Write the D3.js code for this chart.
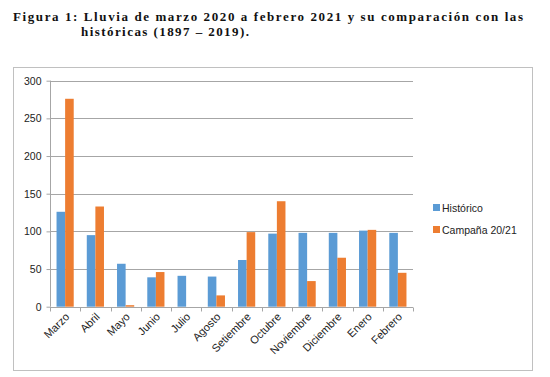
<!DOCTYPE html>
<html><head><meta charset="utf-8">
<script src="https://cdn.jsdelivr.net/npm/d3@7"></script>
<style>
body{margin:0;background:#fff;}
svg{display:block;}
</style></head>
<body>
<svg id="chart" width="550" height="377"></svg>
<script>
const months = ["Marzo","Abril","Mayo","Junio","Julio","Agosto","Setiembre","Octubre","Noviembre","Diciembre","Enero","Febrero"];
const seriesNames = ["Histórico","Campaña 20/21"];
const historico = [126, 95, 57, 39, 41, 40, 62, 97, 98, 98, 101, 98];
const campana = [276, 133, 2, 46, 0, 15, 99, 140, 34, 65, 102, 45];
const yTicks = [0, 50, 100, 150, 200, 250, 300];
const titleLines = ["Figura 1: Lluvia de marzo 2020 a febrero 2021 y su comparación con las", "históricas (1897 – 2019)."];
const colors = ["#5b9bd5", "#ed7d31"];

(function(){
const svg = d3.select("#chart");
const values = [historico, campana];

// title
svg.append("text").attr("x", 13).attr("y", 20.5)
  .attr("font-family", "'Liberation Serif', serif").attr("font-weight", "bold").attr("font-size", 13)
  .attr("textLength", 510).attr("lengthAdjust", "spacing").attr("fill", "#111")
  .text(titleLines[0]);
svg.append("text").attr("x", 81).attr("y", 35.5)
  .attr("font-family", "'Liberation Serif', serif").attr("font-weight", "bold").attr("font-size", 13)
  .attr("textLength", 168).attr("lengthAdjust", "spacing").attr("fill", "#111")
  .text(titleLines[1]);

// chart frame
svg.append("rect").attr("x", 13.5).attr("y", 67.5).attr("width", 519).attr("height", 303)
  .attr("fill", "#fff").attr("stroke", "#c0c0c0").attr("stroke-width", 1);

const pLeft = 50, pRight = 413, pTop = 80.7, pBottom = 306.7;
const y = d3.scaleLinear().domain([0, 300]).range([pBottom, pTop]);
const x0 = d3.scaleBand().domain(months).range([pLeft, pRight]).paddingInner(0).paddingOuter(0);
const x1 = d3.scaleBand().domain([0, 1]).range([0, x0.bandwidth()]).paddingInner(0).paddingOuter(0.76);

// gridlines
svg.append("g").selectAll("line").data(yTicks.filter(d => d > 0)).join("line")
  .attr("x1", pLeft).attr("x2", pRight)
  .attr("y1", d => Math.round(y(d)) + 0.5).attr("y2", d => Math.round(y(d)) + 0.5)
  .attr("stroke", "#a6a6a6").attr("stroke-width", 1);

// bars
const g = svg.append("g");
months.forEach((m, i) => {
  values.forEach((vals, s) => {
    const v = vals[i];
    if (v <= 0) return;
    g.append("rect")
      .attr("x", x0(m) + x1(s))
      .attr("width", x1.bandwidth())
      .attr("y", y(v))
      .attr("height", y(0) - y(v))
      .attr("fill", colors[s]);
  });
});

// y axis
const yAxis = d3.axisLeft(y).tickValues(yTicks).tickSize(4).tickPadding(5);
const ya = svg.append("g").attr("transform", `translate(${pLeft + 0.5},0)`).call(yAxis);
ya.select(".domain").attr("stroke", "#a6a6a6").attr("d", `M0,${y(300)}V${y(0)}`);
ya.selectAll(".tick line").attr("stroke", "#a6a6a6");
ya.selectAll(".tick text").attr("font-family", "'Liberation Sans', Arial, sans-serif").attr("font-size", 10.5).attr("fill", "#222");

// x axis
const xa = svg.append("g").attr("transform", `translate(0,${Math.round(y(0)) + 0.5})`);
xa.append("line").attr("x1", pLeft).attr("x2", pRight).attr("stroke", "#a6a6a6");
const tickXs = d3.range(months.length + 1).map(i => pLeft + i * x0.step());
xa.selectAll("line.t").data(tickXs).join("line").attr("class", "t")
  .attr("x1", d => Math.round(d) + 0.5).attr("x2", d => Math.round(d) + 0.5)
  .attr("y1", 0).attr("y2", 4).attr("stroke", "#a6a6a6");
xa.selectAll("text").data(months).join("text")
  .attr("transform", d => `translate(${x0(d) + x0.bandwidth() / 2 + 5},${10}) rotate(-45)`)
  .attr("text-anchor", "end")
  .attr("font-family", "'Liberation Sans', Arial, sans-serif").attr("font-size", 11).attr("fill", "#222")
  .text(d => d);

// legend
const lg = svg.append("g");
seriesNames.forEach((n, i) => {
  const ly = 208 + i * 22;
  lg.append("rect").attr("x", 433).attr("y", ly - 4).attr("width", 7).attr("height", 7).attr("fill", colors[i]);
  lg.append("text").attr("x", 442).attr("y", ly + 3.5)
    .attr("font-family", "'Liberation Sans', Arial, sans-serif").attr("font-size", 10.5).attr("fill", "#222")
    .text(n);
});
})();
</script>
</body></html>
